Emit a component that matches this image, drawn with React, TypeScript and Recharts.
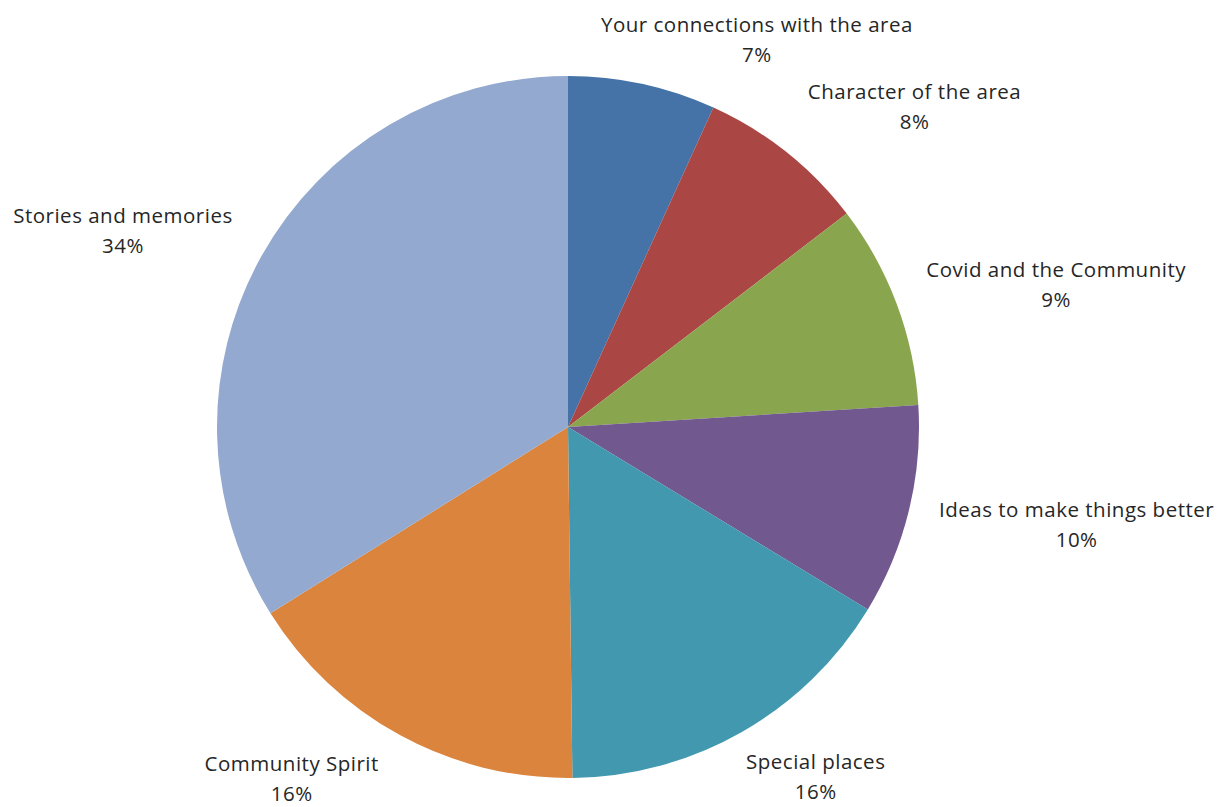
import React from "react";
import { PieChart, Pie, Cell } from "recharts";

const CATEGORIES = [
  "Your connections with the area",
  "Character of the area",
  "Covid and the Community",
  "Ideas to make things better",
  "Special places",
  "Community Spirit",
  "Stories and memories",
];
const VALUES = [6.8, 7.8, 9.4, 9.7, 16.1, 16.3, 33.9];
const COLORS = ["#4572A7", "#AA4643", "#89A54E", "#71588F", "#4198AF", "#DB843D", "#93A9CF"];
// label nudges from the radial anchor point
const LABEL_NUDGE: [number, number][] = [
  [106, -5],
  [103, -14],
  [122, -5],
  [129, 4],
  [54, 10],
  [-89, 9],
  [-103, -7],
];

const data = CATEGORIES.map((name, i) => ({ name, value: VALUES[i] }));
const RAD = Math.PI / 180;

const renderLabel = (props: any) => {
  const { cx, cy, midAngle, outerRadius, percent, index, name } = props;
  const r = outerRadius + 40;
  const x = cx + r * Math.cos(-midAngle * RAD) + LABEL_NUDGE[index][0];
  const y = cy + r * Math.sin(-midAngle * RAD) + LABEL_NUDGE[index][1];
  return (
    <text
      x={x}
      y={y}
      textAnchor="middle"
      fill="#262626"
      fontFamily="'Open Sans', sans-serif"
      fontSize={20.5}
      letterSpacing={0.5}
    >
      <tspan x={x} y={y - 8}>{name}</tspan>
      <tspan x={x} y={y + 22}>{`${Math.round(percent * 100)}%`}</tspan>
    </text>
  );
};

export default function App() {
  return (
    <PieChart width={1223} height={799} margin={{ top: 0, right: 0, bottom: 0, left: 0 }}>
      <Pie
        data={data}
        dataKey="value"
        nameKey="name"
        cx={560}
        cy={419}
        outerRadius={351}
        startAngle={90}
        endAngle={-270}
        stroke="none"
        label={renderLabel}
        labelLine={false}
        isAnimationActive={false}
      >
        {data.map((d, i) => (
          <Cell key={d.name} fill={COLORS[i]} />
        ))}
      </Pie>
    </PieChart>
  );
}
